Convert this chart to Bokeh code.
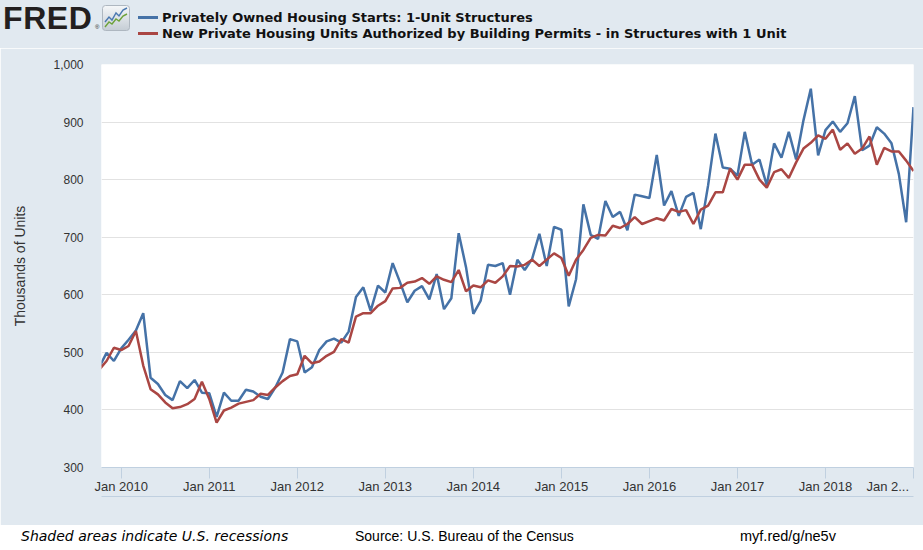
from bokeh.plotting import figure
from bokeh.models import Range1d, FixedTicker, NumeralTickFormatter, LinearAxis, Div
from bokeh.layouts import column
from bokeh.embed import file_html
from bokeh.resources import INLINE

# monthly values, Oct 2009 .. Jan 2019 (thousands of units, SAAR)
first_month = -3  # months relative to Jan 2010

starts = [474, 499, 485, 507, 522, 538, 568, 456, 445, 426, 417, 450,
          438, 452, 430, 429, 388, 430, 416, 416, 435, 432, 423, 419,
          439, 465, 523, 519, 465, 474, 504, 519, 524, 517, 536, 596,
          613, 572, 616, 604, 655, 622, 587, 607, 615, 592, 636, 575,
          594, 707, 648, 567, 590, 652, 650, 655, 600, 661, 643, 662,
          706, 650, 718, 713, 580, 627, 757, 704, 697, 763, 735, 744,
          712, 774, 771, 768, 843, 755, 780, 737, 770, 777, 714, 790,
          880, 821, 819, 807, 883, 826, 835, 790, 863, 838, 883, 835,
          903, 958, 842, 886, 901, 883, 898, 945, 851, 859, 891, 880,
          863, 810, 726, 926]

permits = [470, 485, 508, 504, 511, 537, 477, 436, 427, 413, 403, 405,
           410, 419, 449, 419, 378, 399, 404, 411, 414, 417, 428, 426,
           439, 450, 459, 462, 494, 481, 484, 494, 501, 523, 517, 562,
           568, 568, 581, 589, 611, 612, 621, 623, 629, 619, 632, 626,
           622, 643, 606, 616, 613, 625, 621, 632, 650, 649, 652, 661,
           650, 661, 672, 664, 633, 661, 678, 699, 704, 703, 720, 716,
           723, 735, 723, 728, 733, 729, 749, 744, 747, 723, 748, 755,
           778, 778, 819, 800, 826, 826, 800, 786, 813, 818, 803, 830,
           854, 864, 877, 871, 887, 852, 863, 845, 854, 875, 826, 855,
           849, 849, 833, 815]

months = list(range(first_month, first_month + len(starts)))

x_ticks = [0, 12, 24, 36, 48, 60, 72, 84, 96, 108]
x_labels = ["Jan 2010", "Jan 2011", "Jan 2012", "Jan 2013", "Jan 2014",
            "Jan 2015", "Jan 2016", "Jan 2017", "Jan 2018",
            "Jan 2..." + "\u00a0" * 4]
y_ticks = [300, 400, 500, 600, 700, 800, 900, 1000]

series_names = ["Privately Owned Housing Starts: 1-Unit Structures",
                "New Private Housing Units Authorized by Building Permits - "
                "in Structures with 1 Unit"]

BG = "#E1E9F0"
AXIS = "#C0D0E0"
BLUE = "#4572A7"
RED = "#AA4643"

# ---- header: logo + legend
icon = ('<svg width="28" height="26" style="position:absolute;left:102px;top:5px">'
        '<defs><linearGradient id="ig" x1="0" y1="0" x2="0" y2="1">'
        '<stop offset="0" stop-color="#F5F7F9"/><stop offset="1" stop-color="#C5CDD5"/>'
        '</linearGradient></defs>'
        '<rect x="0.5" y="0.5" width="27" height="25" rx="3" fill="url(#ig)" stroke="#AEB7C0"/>'
        '<polyline points="3,17 7,12 10,15 14,8 17,11 21,5 25,3" fill="none" '
        'stroke="#4A78B0" stroke-width="1.4"/>'
        '<polyline points="3,22 7,17 10,19 14,14 17,16 21,11 25,9" fill="none" '
        'stroke="#6DA23A" stroke-width="1.4"/></svg>')

legend_font = ("font-family:'DejaVu Sans',sans-serif;font-weight:bold;"
               "font-size:13px;line-height:13px;color:#111;white-space:nowrap;")

rows = ""
for name, color, top in [(series_names[0], BLUE, 16), (series_names[1], RED, 32)]:
    rows += ('<div style="position:absolute;left:138px;top:%dpx;width:20px;height:3px;'
             'background:%s"></div>' % (top, color))
    rows += ('<div style="position:absolute;left:162px;top:%dpx;%s">%s</div>'
             % (top - 5, legend_font, name))

header_html = (
    '<div style="position:relative;width:923px;height:48px;background:%s;overflow:hidden">'
    '<div style="position:absolute;left:3px;top:2px;font-family:\'Liberation Sans\',sans-serif;'
    'font-weight:bold;font-size:32px;line-height:32px;color:#231F20;letter-spacing:0.6px">FRED</div>'
    '<div style="position:absolute;left:95px;top:24px;font-family:\'Liberation Sans\',sans-serif;'
    'font-size:6px;line-height:6px;color:#231F20">\u00ae</div>'
    '%s%s</div>' % (BG, icon, rows))
header = Div(text=header_html, width=923, height=48, margin=0)

# ---- chart
fig = figure(width=923, height=477, x_range=Range1d(-2.69, 108),
             y_range=Range1d(300, 1000), output_backend="svg",
             toolbar_location=None, min_border_left=101, min_border_right=10,
             min_border_top=16, min_border_bottom=58,
             background_fill_color="white", border_fill_color=BG,
             outline_line_color=None, margin=0)

fig.line(months, starts, line_color=BLUE, line_width=2.5)
fig.line(months, permits, line_color=RED, line_width=2.5)

fig.xgrid.visible = False
fig.ygrid.grid_line_color = "#E2E2E2"

fig.yaxis.ticker = FixedTicker(ticks=y_ticks)
fig.yaxis.formatter = NumeralTickFormatter(format="0,0")
fig.yaxis.axis_line_color = None
fig.yaxis.major_tick_out = 0
fig.yaxis.major_tick_in = 0
fig.yaxis.minor_tick_out = 0
fig.yaxis.minor_tick_in = 0
fig.yaxis.major_label_standoff = 18
fig.yaxis.major_label_text_font = "Liberation Sans"
fig.yaxis.major_label_text_font_size = "12px"
fig.yaxis.major_label_text_color = "#333333"
fig.yaxis.axis_label = "Thousands of Units"
fig.yaxis.axis_label_text_font = "Liberation Sans"
fig.yaxis.axis_label_text_font_size = "14px"
fig.yaxis.axis_label_text_font_style = "normal"
fig.yaxis.axis_label_text_color = "#333333"
fig.yaxis.axis_label_standoff = 22

fig.xaxis.ticker = FixedTicker(ticks=x_ticks)
fig.xaxis.major_label_overrides = dict(zip(x_ticks, x_labels))
fig.xaxis.axis_line_color = AXIS
fig.xaxis.major_tick_line_color = AXIS
fig.xaxis.major_tick_out = 11
fig.xaxis.major_tick_in = 0
fig.xaxis.minor_tick_out = 0
fig.xaxis.minor_tick_in = 0
fig.xaxis.major_label_standoff = 0
fig.xaxis.major_label_text_font = "Liberation Sans"
fig.xaxis.major_label_text_font_size = "13px"
fig.xaxis.major_label_text_color = "#333333"

# lower rule of the date navigator
nav = LinearAxis(ticker=FixedTicker(ticks=[]), axis_line_color=AXIS,
                 major_label_text_font_size="0px", major_tick_out=0,
                 minor_tick_out=0)
fig.add_layout(nav, "below")

# ---- footer on white
footer_html = (
    '<div style="position:relative;width:923px;height:25px;background:white;'
    'overflow:hidden;color:#000;white-space:nowrap">'
    '<div style="position:absolute;left:21px;top:3px;font-family:\'DejaVu Sans\',sans-serif;'
    'font-style:italic;font-size:14px;line-height:16px">Shaded areas indicate U.S. recessions</div>'
    '<div style="position:absolute;left:355px;top:3px;font-family:\'Liberation Sans\',sans-serif;'
    'font-size:14px;line-height:16px">Source: U.S. Bureau of the Census</div>'
    '<div style="position:absolute;left:740px;top:3px;font-family:\'Liberation Sans\',sans-serif;'
    'font-size:14.5px;line-height:16px">myf.red/g/ne5v</div>'
    '</div>')
footer = Div(text=footer_html, width=923, height=25, margin=0)

p = column(header, fig, footer)

open("out.html", "w").write(file_html(p, INLINE))
